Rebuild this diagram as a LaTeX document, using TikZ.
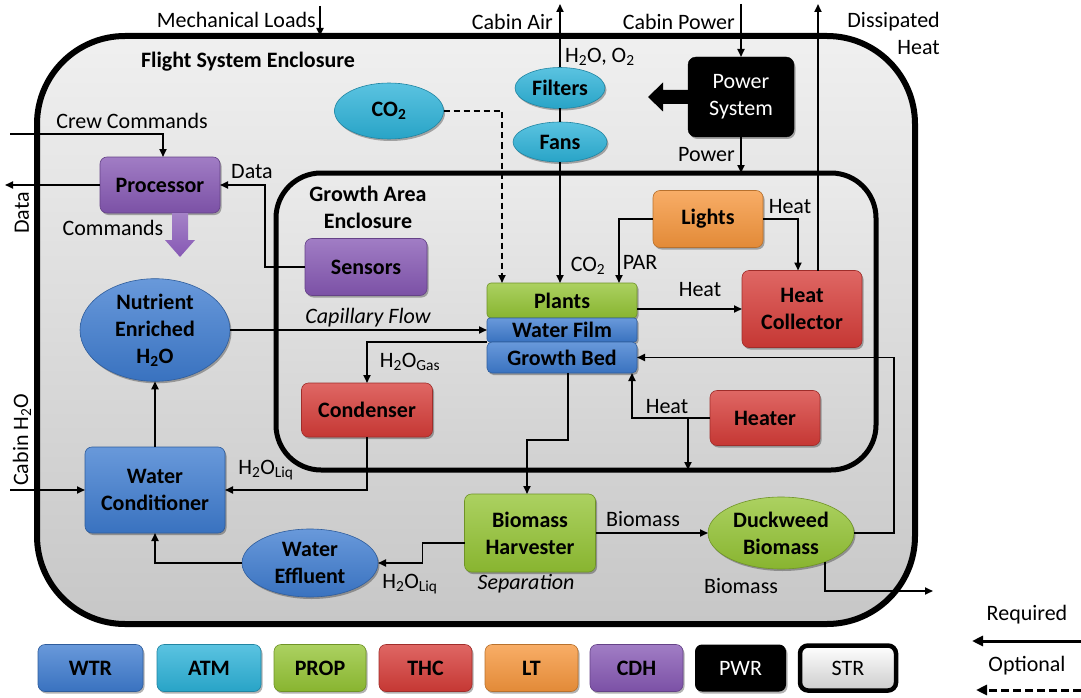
\documentclass[tikz,border=0pt]{standalone}
\usepackage{fontspec}
\setmainfont{Carlito}
\usetikzlibrary{arrows.meta,shapes.geometric,shadows,calc}
\definecolor{wtr}{RGB}{62,124,208}
\definecolor{atm}{RGB}{44,178,216}
\definecolor{prop}{RGB}{148,196,52}
\definecolor{thc}{RGB}{214,60,56}
\definecolor{lt}{RGB}{246,150,60}
\definecolor{cdh}{RGB}{134,88,180}
\definecolor{strc}{RGB}{226,226,226}
\newcommand\boxfont{\bfseries\fontsize{22}{27}\selectfont}
\newcommand\lblfont{\fontsize{22}{27}\selectfont}
\tikzset{
  lbl/.style={font=\lblfont, inner sep=0pt, align=center},
  arr/.style={-{Triangle[length=8pt,width=7pt]}, line width=1.8pt},
  shad/.style={drop shadow={shadow xshift=1.5pt, shadow yshift=-2pt, opacity=0.3, fill=black}},
  box/.style={rectangle, rounded corners=7pt, draw=#1!75!black, line width=0.6pt,
    top color=#1!78!white, bottom color=#1!92!black, font=\boxfont, align=center,
    inner sep=0pt, outer sep=0pt, shad},
  ell/.style={ellipse, draw=#1!75!black, line width=0.6pt,
    top color=#1!78!white, bottom color=#1!92!black, font=\boxfont, align=center,
    inner sep=0pt, outer sep=0pt, shad},
  encl/.style={rectangle, draw=black, outer sep=0pt, inner sep=0pt},
}
\begin{document}
\begin{tikzpicture}[x=1pt,y=-1pt]
\useasboundingbox (0,0) rectangle (1081,698);
% enclosures
\node[encl, minimum width=878, minimum height=588, rounded corners=88pt, line width=6pt,
  top color=black!6, bottom color=black!22] (outer) at (476,330) {};
\node[encl, minimum width=600, minimum height=297, rounded corners=45pt, line width=5pt,
  top color=black!8, bottom color=black!18] (inner) at (576,321.5) {};
\node[font=\boxfont, inner sep=0pt] (fse) at (248,62) {Flight System Enclosure};
\node[font=\boxfont, inner sep=0pt, align=center] (gae) at (368,207) {Growth Area\\Enclosure};

% nodes
\node[ell=atm, minimum width=90, minimum height=41] (filters) at (560,88) {Filters};
\node[ell=atm, minimum width=94, minimum height=40] (fans) at (560,142) {Fans};
\node[ell=atm, minimum width=109, minimum height=56] (co2) at (389,111) {CO\textsubscript{2}};
\node[rectangle, rounded corners=8pt, fill=black, draw=black, minimum width=106, minimum height=80,
  font=\lblfont, text=white, align=center, inner sep=0pt, outer sep=0pt, shad] (power) at (741,97) {Power\\System};
\node[box=cdh, minimum width=120, minimum height=56] (proc) at (160,185) {Processor};
\node[box=cdh, minimum width=122, minimum height=57] (sensors) at (366,267) {Sensors};
\node[ell=wtr, minimum width=150, minimum height=88] (nut) at (155,330) {Nutrient\\Enriched\\H\textsubscript{2}O};
\node[box=wtr, minimum width=140, minimum height=86] (wc) at (155,490) {Water\\Conditioner};
\node[ell=wtr, minimum width=136, minimum height=68] (we) at (310,563) {Water\\Effluent};
\node[box=thc, minimum width=131, minimum height=54] (cond) at (367,410) {Condenser};
\node[box=prop, rounded corners=4pt, minimum width=150, minimum height=35] (plants) at (562,300.5) {Plants};
\node[box=wtr, rounded corners=3pt, minimum width=150, minimum height=24] (film) at (562,330) {Water Film};
\node[box=wtr, rounded corners=5pt, minimum width=150, minimum height=31] (bed) at (562,357.5) {Growth Bed};
\node[box=lt, minimum width=110, minimum height=57] (lights) at (708,219) {Lights};
\node[box=thc, minimum width=120, minimum height=77] (hc) at (802,309) {Heat\\Collector};
\node[box=thc, minimum width=110, minimum height=55] (heater) at (765,418) {Heater};
\node[box=prop, minimum width=131, minimum height=78] (bh) at (530,533) {Biomass\\Harvester};
\node[ell=prop, minimum width=146, minimum height=72] (dw) at (781,533) {Duckweed\\Biomass};

% block arrows
\fill[black] ($(power.west)+(2,-7)$) -- ($(power.west)+(-25,-7)$) -- ($(power.west)+(-25,-14.5)$)
  -- ($(power.west)+(-40,0)$) -- ($(power.west)+(-25,14.5)$) -- ($(power.west)+(-25,7)$)
  -- ($(power.west)+(2,7)$) -- cycle;
\shade[top color=cdh!75!white, bottom color=cdh] ($(proc.south)+(12,0)$) -- ($(proc.south)+(28,0)$) -- ($(proc.south)+(28,27)$)
  -- ($(proc.south)+(35,27)$) -- ($(proc.south)+(20,44)$) -- ($(proc.south)+(5,27)$)
  -- ($(proc.south)+(12,27)$) -- cycle;

% external coordinates
\coordinate (ml) at (320,6);
\coordinate (ca) at (560,4);
\coordinate (cp) at (741,4);
\coordinate (dh) at (818,4);
\coordinate (cc) at (10,134);
\coordinate (dout) at (5,185);
\coordinate (ch) at (10,490);
\coordinate (bout) at (933,591);

% connectors
\draw[arr] (ml) -- (ml |- outer.north);
\draw[arr] (filters.north) -- (ca);
\draw[line width=1.8pt] (filters.south) -- (fans.north);
\draw[arr] (fans.south) -- (fans.south |- plants.north);
\draw[arr, dash pattern=on 6pt off 4pt] (co2.east) -| ($(plants.north west)+(15,0)$);
\draw[arr] (lights.west) -| ($(plants.north west)+(132,0)$);
\draw[arr] (cp) -- (power.north);
\draw[arr] (power.south) -- (power.south |- inner.north);
\draw[arr] (lights.east) -| ($(hc.north west)+(56,0)$);
\draw[arr] (dh |- hc.north) -- (dh);
\draw[arr] (hc.west -| plants.east) -- (hc.west);
\draw[arr] (cc) -| ($(proc.north)+(3,0)$);
\draw[arr] (proc.west) -- (dout);
\draw[arr] (sensors.west) -| ($(proc.east)+(45,0)$) |- (proc.east);
\draw[arr] (ch) -- (wc.west);
\draw[arr] (wc.north) -- (nut.south);
\draw[arr] (nut.east) -- (nut.east -| film.west);
\draw[arr] (film.south west) -| (cond.north);
\draw[arr] (cond.south) |- (wc.east);
\draw[arr] ($(bed.south)+(6,0)$) -- ++(0,67) -| ($(bh.north)+(-3,0)$);
\draw[arr] (heater.west) -| ($(bed.south)+(70,0)$);
\coordinate (hb) at ($(heater.west)+(-22,0)$);
\draw[arr] (hb) -- (hb |- inner.south);
\draw[arr] (bh.east) -- (dw.west);
\draw[arr] (dw.east) -- ++(40,0) |- (bed.east);
\draw[arr] (dw.-33) |- (bout);
\draw[arr] ($(bh.west)+(0,10)$) -- ++(-42,0) |- (we.east);
\draw[arr] (we.west) -| (wc.south);

% labels
\node[lbl, anchor=east] at (316,20) {Mechanical Loads};
\node[lbl, anchor=east] at (553,22) {Cabin Air};
\node[lbl, anchor=east] at (735,22) {Cabin Power};
\node[lbl, anchor=north east, align=right] at (940,12) {Dissipated\\Heat};
\node[lbl, anchor=west] at (565,57) {H\textsubscript{2}O, O\textsubscript{2}};
\node[lbl, anchor=east] at (735,155) {Power};
\node[lbl] at (132,121) {Crew Commands};
\node[lbl] at (252,172) {Data};
\node[lbl] at (113,228) {Commands};
\node[lbl, rotate=90] at (22,213) {Data};
\node[lbl, rotate=90, anchor=west] at (22,486) {Cabin H\textsubscript{2}O};
\node[lbl, font=\lblfont\itshape] at (368,318) {Capillary Flow};
\node[lbl] at (410,362) {H\textsubscript{2}O\textsubscript{Gas}};
\node[lbl] at (266,470) {H\textsubscript{2}O\textsubscript{Liq}};
\node[lbl] at (588,266) {CO\textsubscript{2}};
\node[lbl] at (640,262) {PAR};
\node[lbl] at (790,207) {Heat};
\node[lbl] at (700,290) {Heat};
\node[lbl] at (667,407) {Heat};
\node[lbl] at (643,519) {Biomass};
\node[lbl] at (741,586) {Biomass};
\node[lbl, font=\lblfont\itshape] at (526,584) {Separation};
\node[lbl] at (410,584) {H\textsubscript{2}O\textsubscript{Liq}};

% legend
\node[box=wtr, minimum width=105, minimum height=47] (l1) at (90.5,668) {WTR};
\node[box=atm, minimum width=104, minimum height=47] (l2) at (209,668) {ATM};
\node[box=prop, minimum width=92, minimum height=47] (l3) at (320,668) {PROP};
\node[box=thc, minimum width=93, minimum height=47] (l4) at (425.5,668) {THC};
\node[box=lt, minimum width=93, minimum height=47] (l5) at (531.5,668) {LT};
\node[box=cdh, minimum width=93, minimum height=47] (l6) at (636.5,668) {CDH};
\node[rectangle, rounded corners=7pt, fill=black, minimum width=91, minimum height=47, font=\lblfont,
  text=white, inner sep=0pt, shad] (l7) at (740.5,668) {PWR};
\node[rectangle, rounded corners=8pt, draw=black, line width=4.5pt, top color=white, bottom color=strc!90!black,
  minimum width=96, minimum height=45, font=\lblfont, inner sep=0pt] (l8) at (848,668) {STR};
\coordinate (rqR) at (1081,641);
\coordinate (rqL) at (972,641);
\coordinate (opR) at (1081,690);
\coordinate (opL) at (976,690);
\draw[-{Triangle[length=11pt,width=10pt]}, line width=3pt] (rqR) -- (rqL);
\draw[-{Triangle[length=11pt,width=10pt]}, line width=3pt, dash pattern=on 8pt off 4pt] (opR) -- (opL);
\node[lbl] at (1027,615) {Required};
\node[lbl] at (1027,666) {Optional};
\end{tikzpicture}
\end{document}
